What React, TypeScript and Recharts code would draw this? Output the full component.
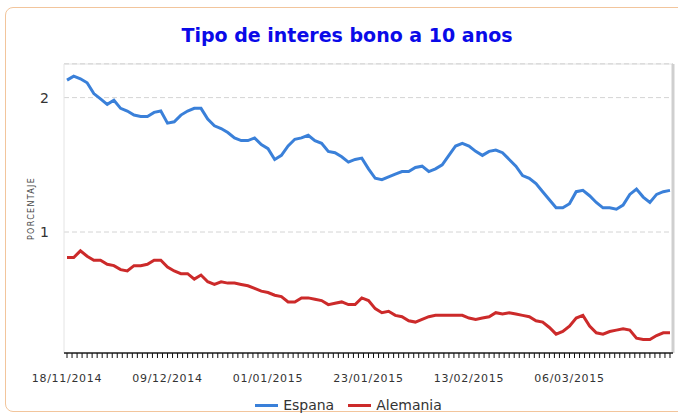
import {
  LineChart,
  Line,
  XAxis,
  YAxis,
  CartesianGrid,
  Legend,
  ReferenceArea,
  ReferenceLine,
  Label,
} from "recharts";

// rentabilidad del bono a 10 años, una lectura por sesión
const espana = [
  2.13, 2.16, 2.14, 2.11, 2.03, 1.99, 1.95, 1.98, 1.92, 1.9,
  1.87, 1.86, 1.86, 1.89, 1.9, 1.81, 1.82, 1.87, 1.9, 1.92,
  1.92, 1.84, 1.79, 1.77, 1.74, 1.7, 1.68, 1.68, 1.7, 1.65,
  1.62, 1.54, 1.57, 1.64, 1.69, 1.7, 1.72, 1.68, 1.66, 1.6,
  1.59, 1.56, 1.52, 1.54, 1.55, 1.47, 1.4, 1.39, 1.41, 1.43,
  1.45, 1.45, 1.48, 1.49, 1.45, 1.47, 1.5, 1.57, 1.64, 1.66,
  1.64, 1.6, 1.57, 1.6, 1.61, 1.59, 1.54, 1.49, 1.42, 1.4,
  1.36, 1.3, 1.24, 1.18, 1.18, 1.21, 1.3, 1.31, 1.27, 1.22,
  1.18, 1.18, 1.17, 1.2, 1.28, 1.32, 1.26, 1.22, 1.28, 1.3,
  1.31,
];

const alemania = [
  0.81, 0.81, 0.86, 0.82, 0.79, 0.79, 0.76, 0.75, 0.72, 0.71,
  0.75, 0.75, 0.76, 0.79, 0.79, 0.74, 0.71, 0.69, 0.69, 0.65,
  0.68, 0.63, 0.61, 0.63, 0.62, 0.62, 0.61, 0.6, 0.58, 0.56,
  0.55, 0.53, 0.52, 0.48, 0.48, 0.51, 0.51, 0.5, 0.49, 0.46,
  0.47, 0.48, 0.46, 0.46, 0.51, 0.49, 0.43, 0.4, 0.41, 0.38,
  0.37, 0.34, 0.33, 0.35, 0.37, 0.38, 0.38, 0.38, 0.38, 0.38,
  0.36, 0.35, 0.36, 0.37, 0.4, 0.39, 0.4, 0.39, 0.38, 0.37,
  0.34, 0.33, 0.29, 0.24, 0.26, 0.3, 0.36, 0.38, 0.3, 0.25,
  0.24, 0.26, 0.27, 0.28, 0.27, 0.21, 0.2, 0.2, 0.23, 0.25,
  0.25,
];

// etiquetas del eje x, una cada 15 sesiones
const fechas = ["18/11/2014", "09/12/2014", "01/01/2015", "23/01/2015", "13/02/2015", "06/03/2015"];
const pasoFechas = 15;

const data = espana.map((v, i) => ({ i, espana: v, alemania: alemania[i] }));

// marcas menores del eje x (20 por cada etiqueta)
const marcas = Array.from({ length: 121 }, (_, k) => k * 0.75);

const AZUL = "#3a80d9";
const ROJO = "#cc2a2a";
const FONT = "'DejaVu Sans', Verdana, sans-serif";

const FechaTick = (props: any) => {
  const { x, y, payload } = props;
  const v = payload.value;
  if (v % pasoFechas !== 0) return <g />;
  const label = fechas[v / pasoFechas];
  if (!label) return <g />;
  return (
    <text x={x} y={y + 22} textAnchor="middle" fontSize={11} fill="#333" fontFamily={FONT} letterSpacing={0.7}>
      {label}
    </text>
  );
};

const Leyenda = () => (
  <div style={{ display: "flex", justifyContent: "center", alignItems: "center", fontFamily: FONT, fontSize: 14, color: "#333", height: 20 }}>
    {[
      { name: "Espana", color: AZUL },
      { name: "Alemania", color: ROJO },
    ].map((s) => (
      <span key={s.name} style={{ display: "inline-flex", alignItems: "center", margin: "0 7px" }}>
        <span style={{ display: "inline-block", width: 23, height: 3, background: s.color, marginRight: 5 }} />
        {s.name}
      </span>
    ))}
  </div>
);

const EtiquetaY = (props: any) => {
  const vb = props.viewBox || {};
  const cx = vb.x + 7;
  const cy = vb.y + vb.height / 2;
  return (
    <text
      x={cx}
      y={cy}
      transform={`rotate(-90 ${cx} ${cy})`}
      textAnchor="middle"
      dominantBaseline="central"
      fontSize={8}
      fontFamily={FONT}
      fill="#444"
      letterSpacing={1.3}
    >
      PORCENTAJE
    </text>
  );
};

export default function App() {
  return (
    <div style={{ position: "absolute", left: 0, top: 0, width: 678, height: 415, overflow: "hidden", background: "#fff" }}>
      <div
        style={{
          position: "absolute",
          left: 5,
          top: 7,
          width: 700,
          height: 403,
          border: "1.5px solid #f2c59c",
          borderRadius: 8,
        }}
      />
      <div
        style={{
          position: "absolute",
          left: 0,
          top: 24,
          width: 694,
          textAlign: "center",
          fontFamily: FONT,
          fontWeight: "bold",
          fontSize: 19,
          color: "#0a0ae8",
        }}
      >
        Tipo de interes bono a 10 anos
      </div>
      <div style={{ position: "absolute", left: 0, top: 0 }}>
        <LineChart width={678} height={415} data={data} margin={{ top: 64, right: 5, left: 24, bottom: 0 }}>
          <ReferenceArea x1={-0.45} x2={90.45} y1={0.1} y2={2.25} fill="#fff" stroke="#e4e4e4" ifOverflow="visible" />
          <ReferenceLine x={90.45} stroke="#cfcfcf" strokeWidth={3} ifOverflow="visible" />
          <CartesianGrid vertical={false} stroke="#a8a8a8" strokeDasharray="5 3" />
          <XAxis
            dataKey="i"
            type="number"
            domain={[-0.45, 90.45]}
            allowDataOverflow
            ticks={marcas}
            interval={0}
            tick={<FechaTick />}
            tickSize={5}
            tickLine={{ stroke: "#111" }}
            axisLine={{ stroke: "#222", strokeWidth: 1.5 }}
            height={42}
          />
          <YAxis
            type="number"
            domain={[0.1, 2.25]}
            allowDataOverflow
            ticks={[1, 2]}
            axisLine={false}
            tickLine={false}
            tickSize={0}
            tickMargin={15}
            width={40}
            tick={{ fontSize: 14, fill: "#333", fontFamily: FONT }}
          >
            <Label content={<EtiquetaY />} />
          </YAxis>
          <Legend verticalAlign="bottom" content={<Leyenda />} />
          <Line type="linear" dataKey="espana" name="Espana" stroke={AZUL} strokeWidth={3} dot={false} isAnimationActive={false} />
          <Line type="linear" dataKey="alemania" name="Alemania" stroke={ROJO} strokeWidth={3} dot={false} isAnimationActive={false} />
        </LineChart>
      </div>
    </div>
  );
}
